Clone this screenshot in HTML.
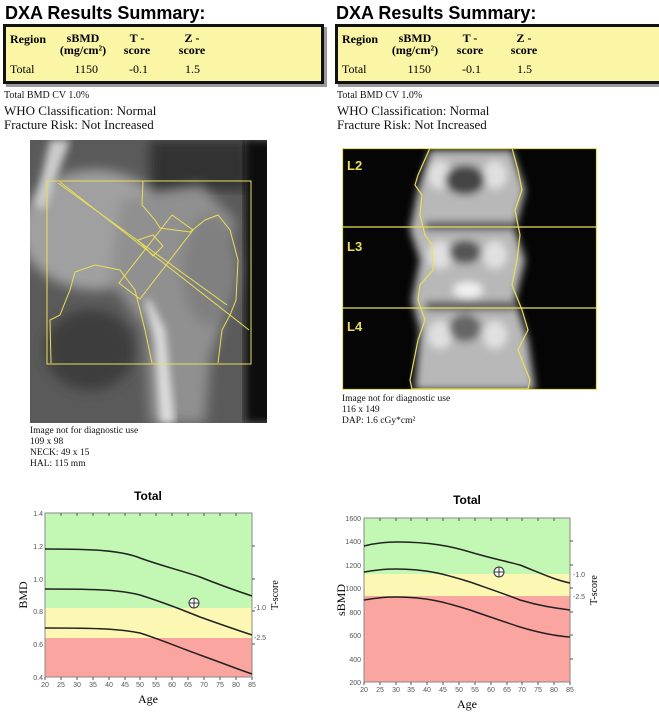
<!DOCTYPE html>
<html><head><meta charset="utf-8"><style>
body{margin:0;width:659px;height:717px;background:#fff;overflow:hidden;position:relative;font-family:"Liberation Serif",serif;}
.a{position:absolute;white-space:nowrap;}
.h{font-family:"Liberation Sans",sans-serif;font-weight:bold;font-size:18px;}
.tb{position:absolute;background:#fbf5a6;border:3px solid #111;box-shadow:3px 3px 0 #999;}
.s{font-size:13px;color:#111;}
.xs{font-size:10px;color:#111;}
.t{font-size:12px;}
</style></head><body>
<div class="a h" style="left:5px;top:3px">DXA Results Summary:</div>
<div class="tb" style="left:3px;top:24px;width:315px;height:54px"></div>
<div class="a h" style="left:336px;top:3px">DXA Results Summary:</div>
<div class="tb" style="left:335px;top:24px;width:330px;height:54px"></div>

<div class="a t" style="left:10px;top:32px;font-weight:bold">Region</div>
<div class="a t" style="left:53px;top:32px;font-weight:bold;text-align:center;width:60px;line-height:12px">sBMD<br>(mg/cm²)</div>
<div class="a t" style="left:117px;top:32px;font-weight:bold;text-align:center;width:40px;line-height:12px">T -<br>score</div>
<div class="a t" style="left:172px;top:32px;font-weight:bold;text-align:center;width:40px;line-height:12px">Z -<br>score</div>
<div class="a t" style="left:10px;top:62px">Total</div>
<div class="a t" style="left:60px;top:62px;width:38px;text-align:right">1150</div>
<div class="a t" style="left:110px;top:62px;width:38px;text-align:right">-0.1</div>
<div class="a t" style="left:162px;top:62px;width:38px;text-align:right">1.5</div>

<div class="a t" style="left:342px;top:32px;font-weight:bold">Region</div>
<div class="a t" style="left:385px;top:32px;font-weight:bold;text-align:center;width:60px;line-height:12px">sBMD<br>(mg/cm²)</div>
<div class="a t" style="left:450px;top:32px;font-weight:bold;text-align:center;width:40px;line-height:12px">T -<br>score</div>
<div class="a t" style="left:504px;top:32px;font-weight:bold;text-align:center;width:40px;line-height:12px">Z -<br>score</div>
<div class="a t" style="left:342px;top:62px">Total</div>
<div class="a t" style="left:393px;top:62px;width:38px;text-align:right">1150</div>
<div class="a t" style="left:443px;top:62px;width:38px;text-align:right">-0.1</div>
<div class="a t" style="left:494px;top:62px;width:38px;text-align:right">1.5</div>

<div class="a xs" style="left:4px;top:90px">Total BMD CV 1.0%</div>
<div class="a s" style="left:4px;top:104px;line-height:14px">WHO Classification: Normal<br>Fracture Risk: Not Increased</div>
<div class="a xs" style="left:337px;top:90px">Total BMD CV 1.0%</div>
<div class="a s" style="left:337px;top:104px;line-height:14px">WHO Classification: Normal<br>Fracture Risk: Not Increased</div>

<svg class="a" style="left:0;top:0" width="659" height="717">
<defs>
<filter id="b"><feGaussianBlur stdDeviation="6"/></filter>
<filter id="b2"><feGaussianBlur stdDeviation="4"/></filter>
<clipPath id="c1"><rect x="30" y="140" width="237" height="283"/></clipPath>
<clipPath id="c2"><rect x="342" y="148" width="255" height="242"/></clipPath>
</defs>
<g clip-path="url(#c1)">
<rect x="30" y="140" width="237" height="283" fill="#5a5a5a"/>
<rect x="150" y="140" width="100" height="50" fill="#333" filter="url(#b)"/>
<rect x="245" y="140" width="30" height="283" fill="#0a0a0a" filter="url(#b2)"/>
<g filter="url(#b)">
<ellipse cx="95" cy="230" rx="75" ry="60" fill="#a0a0a0"/>
<path d="M120 200 L200 185 L235 220 L230 300 L210 360 L205 423 L150 423 L145 330 L110 280Z" fill="#909090"/>
<ellipse cx="210" cy="270" rx="28" ry="55" fill="#808080"/>
<ellipse cx="90" cy="350" rx="45" ry="40" fill="#3e3e3e"/>
</g>
<path d="M50 140 L70 140 L45 210 L35 205Z" fill="#ccc" filter="url(#b2)"/>
<path d="M145 300 L155 340 L160 423 L175 423 L165 330 L150 300Z" fill="#ddd" filter="url(#b2)"/>
<g fill="none" stroke="#e8df5a" stroke-width="1">
<rect x="47" y="181" width="204" height="183"/>
<path d="M51 363 L50 320 L60 315 L70 290 L75 272 L95 265 L120 270 L135 290 L145 330 L152 363"/>
<path d="M143 181 L142 205 L155 220 L160 228 L175 230 L190 232 L205 220 L218 215 L230 230 L238 260 L236 300 L230 315 L222 330 L218 363"/>
<path d="M60 182 L249 330"/><path d="M58 183 L227 305"/>
<path d="M119 283 L172 215 L193 230 L140 299Z"/>
<path d="M138 240 L153 235 L163 246 L153 256Z"/>
</g>
</g>
<g clip-path="url(#c2)">
<rect x="342" y="148" width="255" height="242" fill="#050505"/>
<g filter="url(#b2)">
<path d="M430 150 L512 150 L525 190 L515 230 L525 260 L515 300 L528 340 L535 390 L415 390 L420 330 L412 300 L420 260 L410 230 L418 190Z" fill="#b8b8b8"/>
<ellipse cx="440" cy="175" rx="12" ry="14" fill="#e0e0e0"/><ellipse cx="495" cy="175" rx="12" ry="14" fill="#e0e0e0"/>
<ellipse cx="440" cy="255" rx="12" ry="14" fill="#e0e0e0"/><ellipse cx="495" cy="255" rx="12" ry="14" fill="#e0e0e0"/>
<ellipse cx="440" cy="335" rx="12" ry="14" fill="#e0e0e0"/><ellipse cx="495" cy="335" rx="12" ry="14" fill="#e0e0e0"/>
<ellipse cx="468" cy="290" rx="15" ry="8" fill="#f0f0f0"/>
<ellipse cx="465" cy="180" rx="20" ry="15" fill="#444"/>
<ellipse cx="465" cy="252" rx="16" ry="12" fill="#555"/>
<ellipse cx="465" cy="328" rx="16" ry="14" fill="#666"/>
<rect x="425" y="222" width="90" height="8" fill="#333"/>
<rect x="425" y="302" width="90" height="8" fill="#333"/>
</g>
<g fill="none" stroke="#e8df5a" stroke-width="1.2">
<rect x="342.5" y="148.5" width="254" height="241"/>
<line x1="342" y1="227" x2="597" y2="227"/><line x1="342" y1="308" x2="597" y2="308"/>
<path d="M430 148 L418 175 L415 185 L422 195 L420 215 L425 235 L432 245 L433 270 L420 285 L418 300 L425 320 L418 340 L410 380 L412 389 L528 389 L530 380 L518 350 L528 330 L522 310 L512 285 L517 260 L520 235 L515 210 L522 190 L518 170 L512 148"/>
</g>
<text x="347" y="170" font-family="Liberation Sans" font-weight="bold" font-size="13" fill="#e8df5a">L2</text>
<text x="347" y="251" font-family="Liberation Sans" font-weight="bold" font-size="13" fill="#e8df5a">L3</text>
<text x="347" y="331" font-family="Liberation Sans" font-weight="bold" font-size="13" fill="#e8df5a">L4</text>
</g>
<g font-family="Liberation Serif" font-size="9.5" fill="#111">
<text x="30" y="433">Image not for diagnostic use</text><text x="30" y="444">109 x 98</text><text x="30" y="455">NECK: 49 x 15</text><text x="30" y="466">HAL: 115 mm</text>
<text x="342" y="401">Image not for diagnostic use</text><text x="342" y="412">116 x 149</text><text x="342" y="423">DAP: 1.6 cGy*cm²</text>
</g>

<!-- left chart -->
<text x="148" y="500" font-family="Liberation Sans" font-weight="bold" font-size="12" text-anchor="middle">Total</text>
<rect x="45" y="513" width="207" height="95" fill="#c2f7b4"/>
<rect x="45" y="608" width="207" height="30" fill="#fcf8b4"/>
<rect x="45" y="638" width="207" height="39" fill="#fba5a0"/>
<rect x="45" y="513" width="207" height="164" fill="none" stroke="#888"/>
<g stroke="#555">
<path d="M61 513v3M77 513v3M93 513v3M109 513v3M125 513v3M140 513v3M156 513v3M172 513v3M188 513v3M204 513v3M220 513v3M236 513v3"/>
<path d="M61 677v3M77 677v3M93 677v3M109 677v3M125 677v3M140 677v3M156 677v3M172 677v3M188 677v3M204 677v3M220 677v3M236 677v3M45 677v3M252 677v3"/>
<path d="M252 546h3M252 579h3M252 611h3M252 644h3"/>
</g>
<g fill="none" stroke="#222" stroke-width="1.5">
<path d="M45 549 C90 549 120 550 140 558 C165 567 180 570 200 577 C225 587 240 592 252 596"/>
<path d="M45 589 C100 589 120 590 140 595 C165 603 180 609 200 617 C225 626 240 631 252 635"/>
<path d="M45 628 C100 628 120 629 140 633 C165 641 180 648 200 655 C225 664 240 670 252 674"/>
</g>
<circle cx="194" cy="603" r="5" fill="#fff" stroke="#333"/><path d="M189 603h10M194 598v10" stroke="#333"/>
<g font-family="Liberation Sans" font-size="7" fill="#555" text-anchor="end">
<text x="43" y="516">1.4</text><text x="43" y="549">1.2</text><text x="43" y="582">1.0</text><text x="43" y="614">0.8</text><text x="43" y="647">0.6</text><text x="43" y="680">0.4</text>
</g>
<g font-family="Liberation Sans" font-size="7" fill="#555" text-anchor="middle">
<text x="45" y="687">20</text><text x="61" y="687">25</text><text x="77" y="687">30</text><text x="93" y="687">35</text><text x="109" y="687">40</text><text x="125" y="687">45</text><text x="140" y="687">50</text><text x="156" y="687">55</text><text x="172" y="687">60</text><text x="188" y="687">65</text><text x="204" y="687">70</text><text x="220" y="687">75</text><text x="236" y="687">80</text><text x="252" y="687">85</text>
</g>
<text x="254" y="610" font-family="Liberation Sans" font-size="7" fill="#555">-1.0</text>
<text x="254" y="640" font-family="Liberation Sans" font-size="7" fill="#555">-2.5</text>
<text x="148" y="703" font-size="12" text-anchor="middle">Age</text>
<text transform="translate(27,595) rotate(-90)" font-size="12" text-anchor="middle">BMD</text>
<text transform="translate(278,595) rotate(-90)" font-size="10" text-anchor="middle">T-score</text>

<!-- right chart -->
<text x="467" y="504" font-family="Liberation Sans" font-weight="bold" font-size="12" text-anchor="middle">Total</text>
<rect x="364" y="518" width="206" height="56" fill="#c2f7b4"/>
<rect x="364" y="574" width="206" height="22" fill="#fcf8b4"/>
<rect x="364" y="596" width="206" height="86" fill="#fba5a0"/>
<rect x="364" y="518" width="206" height="164" fill="none" stroke="#888"/>
<g stroke="#555">
<path d="M380 518v3M396 518v3M411 518v3M427 518v3M443 518v3M459 518v3M475 518v3M491 518v3M507 518v3M522 518v3M538 518v3M554 518v3"/>
<path d="M364 682v3M380 682v3M396 682v3M411 682v3M427 682v3M443 682v3M459 682v3M475 682v3M491 682v3M507 682v3M522 682v3M538 682v3M554 682v3M570 682v3"/>
<path d="M570 541h3M570 565h3M570 588h3M570 612h3M570 635h3M570 659h3"/>
</g>
<g fill="none" stroke="#222" stroke-width="1.5">
<path d="M364 546 C380 542 390 542 396 542 C430 542 450 546 470 552 C490 558 505 561 520 565 C540 573 555 580 570 583"/>
<path d="M364 572 C380 569 390 569 396 569 C430 569 450 576 470 582 C490 589 505 594 520 600 C540 606 555 608 570 610"/>
<path d="M364 600 C380 597 390 597 396 597 C430 597 450 604 470 610 C490 617 505 622 520 627 C540 633 555 636 570 637"/>
</g>
<circle cx="499" cy="572" r="5" fill="#fff" stroke="#333"/><path d="M494 572h10M499 567v10" stroke="#333"/>
<g font-family="Liberation Sans" font-size="7" fill="#555" text-anchor="end">
<text x="361" y="521">1600</text><text x="361" y="544">1400</text><text x="361" y="568">1200</text><text x="361" y="591">1000</text><text x="361" y="615">800</text><text x="361" y="638">600</text><text x="361" y="662">400</text><text x="361" y="685">200</text>
</g>
<g font-family="Liberation Sans" font-size="7" fill="#555" text-anchor="middle">
<text x="364" y="692">20</text><text x="380" y="692">25</text><text x="396" y="692">30</text><text x="411" y="692">35</text><text x="427" y="692">40</text><text x="443" y="692">45</text><text x="459" y="692">50</text><text x="475" y="692">55</text><text x="491" y="692">60</text><text x="507" y="692">65</text><text x="522" y="692">70</text><text x="538" y="692">75</text><text x="554" y="692">80</text><text x="570" y="692">85</text>
</g>
<text x="573" y="577" font-family="Liberation Sans" font-size="7" fill="#555">-1.0</text>
<text x="573" y="599" font-family="Liberation Sans" font-size="7" fill="#555">-2.5</text>
<text x="467" y="708" font-size="12" text-anchor="middle">Age</text>
<text transform="translate(345,600) rotate(-90)" font-size="12" text-anchor="middle">sBMD</text>
<text transform="translate(597,590) rotate(-90)" font-size="10" text-anchor="middle">T-score</text>
</svg>
</body></html>
